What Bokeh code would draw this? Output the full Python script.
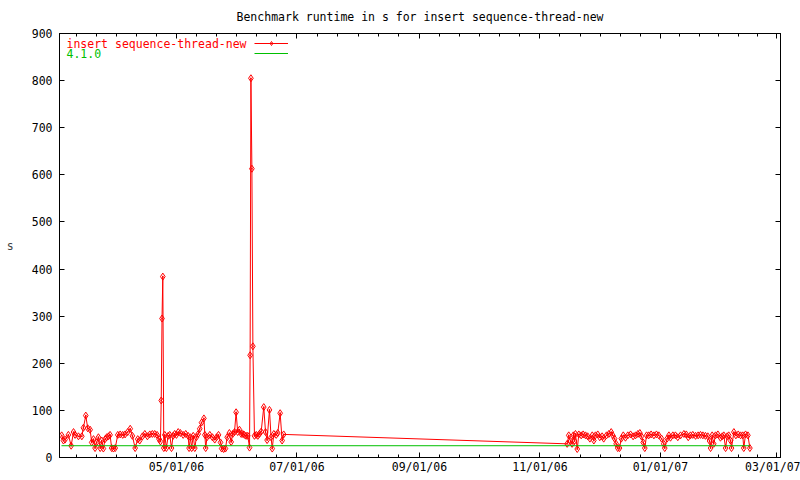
import pandas as pd
from bokeh.plotting import figure
from bokeh.models import (Range1d, FixedTicker, DatetimeTickFormatter, DatetimeAxis,
                          LinearAxis, Label, Legend, LegendItem)
from bokeh.embed import file_html
from bokeh.resources import INLINE

EPOCH = "2006-01-01"
TITLE = "Benchmark runtime in s for insert sequence-thread-new"
SERIES_NAME = "insert sequence-thread-new"
REF_NAME = "4.1.0"
Y_LABEL = "s"

# days since 2006-01-01 and runtime in s
run_days = [
    61.9, 62.8, 63.6, 65.3, 66.7, 67.9, 68.7, 70.4, 72.1, 72.9, 74.1, 75.1, 76.3, 77.1, 78.0,
    78.8, 79.6, 80.5, 81.4, 82.2, 83.0, 83.9, 84.7, 85.6, 86.4, 87.2, 88.1, 89.0, 90.3, 91.5,
    92.8, 94.0, 95.3, 96.6, 97.7, 99.1, 100.4, 101.4, 102.8, 104.0, 105.3, 106.5, 107.8, 109.0,
    110.2, 111.2, 111.9, 112.3, 112.7, 113.1, 113.6, 114.1, 114.9, 115.8, 116.6, 117.5, 118.3,
    119.1, 120.0, 120.9, 122.0, 123.4, 124.7, 125.9, 126.4, 127.1, 127.7, 128.5, 129.3, 130.1,
    131.0, 131.8, 132.7, 133.9, 134.4, 134.8, 135.5, 136.9, 138.2, 139.4, 140.3, 141.3, 142.3,
    142.9, 143.9, 144.8, 145.7, 146.8, 147.7, 148.5, 149.4, 150.2, 151.0, 151.9, 152.8, 153.6,
    154.4, 155.3, 156.1, 157.0, 157.3, 157.7, 158.2, 158.7, 159.5, 160.4, 161.2, 162.0, 162.9,
    164.2, 165.1, 165.9, 167.1, 167.9, 168.5, 169.3, 170.5, 171.3, 172.5, 173.5, 174.3,
    317.8, 318.6, 319.5, 320.3, 320.9, 321.5, 322.0, 322.9, 323.7, 324.9, 325.9, 327.1, 328.2,
    329.3, 330.5, 331.3, 332.1, 333.3, 334.3, 335.5, 336.3, 337.7, 338.9, 340.1, 340.9, 341.8,
    342.6, 343.4, 344.3, 345.2, 346.2, 347.3, 348.5, 349.9, 351.2, 352.4, 353.6, 354.6, 355.4,
    356.3, 357.1, 358.0, 359.1, 360.3, 361.7, 363.0, 364.2, 365.6, 366.7, 367.2, 368.4, 369.3,
    370.1, 371.3, 372.6, 373.8, 375.2, 376.9, 378.1, 379.1, 380.2, 381.4, 382.8, 384.1, 385.3,
    386.5, 387.8, 389.0, 389.9, 390.4, 391.2, 392.0, 392.9, 394.1, 395.4, 396.3, 397.1, 398.0,
    398.8, 399.6, 400.5, 401.0, 402.2, 403.2, 404.4, 405.6, 406.7, 407.2, 408.1, 409.3, 410.3,
]
run_values = [
    47, 36, 38, 48, 25, 54, 48, 45, 45, 63, 89, 62, 59, 32, 39,
    20, 32, 43, 20, 36, 19, 39, 43, 45, 48, 20, 19, 20, 48, 49,
    48, 49, 54, 61, 46, 20, 39, 36, 45, 50, 45, 49, 50, 50,
    48, 39, 34, 121, 295, 384, 20, 48, 20, 46, 48, 20, 46,
    50, 48, 54, 52, 48, 50, 46, 20, 43, 20, 46, 20, 43,
    50, 61, 74, 83, 48, 20, 43, 48, 43, 38, 43, 48, 32,
    19, 18, 19, 43, 52, 33, 50, 54, 96, 54, 59, 50, 50,
    48, 46, 46, 21, 217, 805, 613, 236, 46, 48, 46, 50, 55,
    107, 54, 37, 101, 43, 19, 50, 48, 52, 94, 36, 49,
    29, 47, 35, 29, 47, 35, 50, 18, 49, 47, 49, 47, 45,
    40, 47, 36, 47, 49, 43, 45, 40, 47, 50, 54, 47, 40,
    29, 20, 20, 40, 47, 42, 47, 49, 45, 47, 50, 52, 45,
    32, 20, 47, 47, 49, 47, 49, 47, 40, 29, 20, 40, 47,
    42, 47, 47, 43, 47, 50, 49, 43, 47, 48, 46, 47, 48,
    47, 46, 45, 35, 20, 47, 29, 47, 49, 42, 45, 47, 20,
    45, 47, 36, 20, 54, 47, 49, 47, 47, 20, 49, 47, 20,
]
ref_days = [61.8, 410.3]
ref_values = [25, 25]

x_start_day, x_end_day = 60.8, 425.8
y_start, y_end = 0, 900
y_ticks = [0, 100, 200, 300, 400, 500, 600, 700, 800, 900]
tick_dates = ["2006-03-01", "2006-05-01", "2006-07-01", "2006-09-01",
              "2006-11-01", "2007-01-01", "2007-03-01"]
MINOR_PER_MAJOR = 6


def day_ms(d):
    return (pd.Timestamp(EPOCH) + pd.to_timedelta(d, unit="D")).value / 1e6


def date_ms(s):
    return pd.Timestamp(s).value / 1e6


run_x = [day_ms(d) for d in run_days]
ref_x = [day_ms(d) for d in ref_days]
x_lo, x_hi = day_ms(x_start_day), day_ms(x_end_day)

major_all = [date_ms(s) for s in tick_dates]
minor = []
for a, b in zip(major_all[:-1], major_all[1:]):
    step = (b - a) / MINOR_PER_MAJOR
    minor += [a + k * step for k in range(MINOR_PER_MAJOR)]
minor.append(major_all[-1])
major = [m for m in major_all if x_lo <= m <= x_hi]
minor = [m for m in minor if x_lo <= m <= x_hi]

FONT = "DejaVu Sans Mono"
FS = "11.5px"
RED = "#ff0000"
GREEN = "#00c000"

p = figure(width=800, height=480, x_axis_type="datetime", output_backend="svg",
           toolbar_location=None, x_range=Range1d(x_lo, x_hi),
           y_range=Range1d(y_start, y_end), title=TITLE,
           min_border_left=59, min_border_right=20, min_border_top=33,
           min_border_bottom=23)
p.grid.visible = False
p.outline_line_color = "black"
p.outline_line_width = 1
p.background_fill_color = "white"
p.border_fill_color = "white"

p.title.text_font = FONT
p.title.text_font_size = FS
p.title.text_font_style = "normal"
p.title.align = "center"
p.title.text_color = "black"
p.title.standoff = 15
p.title.vertical_align = "top"

fmt = DatetimeTickFormatter(
    microseconds="%m/%d/%y", milliseconds="%m/%d/%y", seconds="%m/%d/%y",
    minsec="%m/%d/%y", minutes="%m/%d/%y", hourmin="%m/%d/%y", hours="%m/%d/%y",
    days="%m/%d/%y", months="%m/%d/%y", years="%m/%d/%y")
xticker = FixedTicker(ticks=major, minor_ticks=minor)
yticker = FixedTicker(ticks=y_ticks)

xb = p.xaxis[0]
yl = p.yaxis[0]
xb.ticker = xticker
xb.formatter = fmt
yl.ticker = yticker


def style(ax, labels=True):
    ax.axis_line_color = "black"
    ax.major_tick_line_color = "black"
    ax.minor_tick_line_color = "black"
    ax.major_tick_in = 5
    ax.major_tick_out = 0
    ax.minor_tick_in = 3
    ax.minor_tick_out = 0
    ax.major_label_text_font = FONT
    if labels:
        ax.major_label_text_font_size = FS
        ax.major_label_text_color = "black"
    else:
        ax.major_label_text_font_size = "1px"
        ax.major_label_text_color = None
        ax.major_label_standoff = 0


style(xb)
style(yl)
xb.major_label_standoff = 2
yl.major_label_standoff = 7
yl.minor_tick_line_color = None
yl.axis_label = Y_LABEL
yl.axis_label_text_font = FONT
yl.axis_label_text_font_size = FS
yl.axis_label_text_font_style = "normal"
yl.axis_label_standoff = 15
if "axis_label_orientation" in yl.properties():
    yl.axis_label_orientation = "horizontal"

top = DatetimeAxis(ticker=xticker, formatter=fmt)
style(top, labels=False)
p.add_layout(top, "above")
right = LinearAxis(ticker=yticker)
style(right, labels=False)
right.minor_tick_line_color = None
p.add_layout(right, "right")

r_line = p.line(run_x, run_values, line_color=RED, line_width=1)
r_pts = p.scatter(run_x, run_values, marker="diamond_dot", size=7,
                  line_color=RED, fill_color=None, line_width=1)
g_line = p.line(ref_x, ref_values, line_color=GREEN, line_width=1)

legend = Legend(items=[LegendItem(label=" ", renderers=[r_line, r_pts]),
                       LegendItem(label=" ", renderers=[g_line])],
                location=(195, 399), glyph_width=34, glyph_height=10,
                label_height=10, label_width=0, label_standoff=0, spacing=0,
                padding=0, margin=0, border_line_color=None,
                background_fill_alpha=0, label_text_font_size="1px",
                label_text_color=None)
p.add_layout(legend)

p.add_layout(Label(x=7, y=414, x_units="screen", y_units="screen", text=SERIES_NAME,
                   text_color=RED, text_font=FONT, text_font_size=FS,
                   text_baseline="middle"))
p.add_layout(Label(x=7, y=404, x_units="screen", y_units="screen", text=REF_NAME,
                   text_color=GREEN, text_font=FONT, text_font_size=FS,
                   text_baseline="middle"))

open("out.html", "w").write(file_html(p, INLINE))
